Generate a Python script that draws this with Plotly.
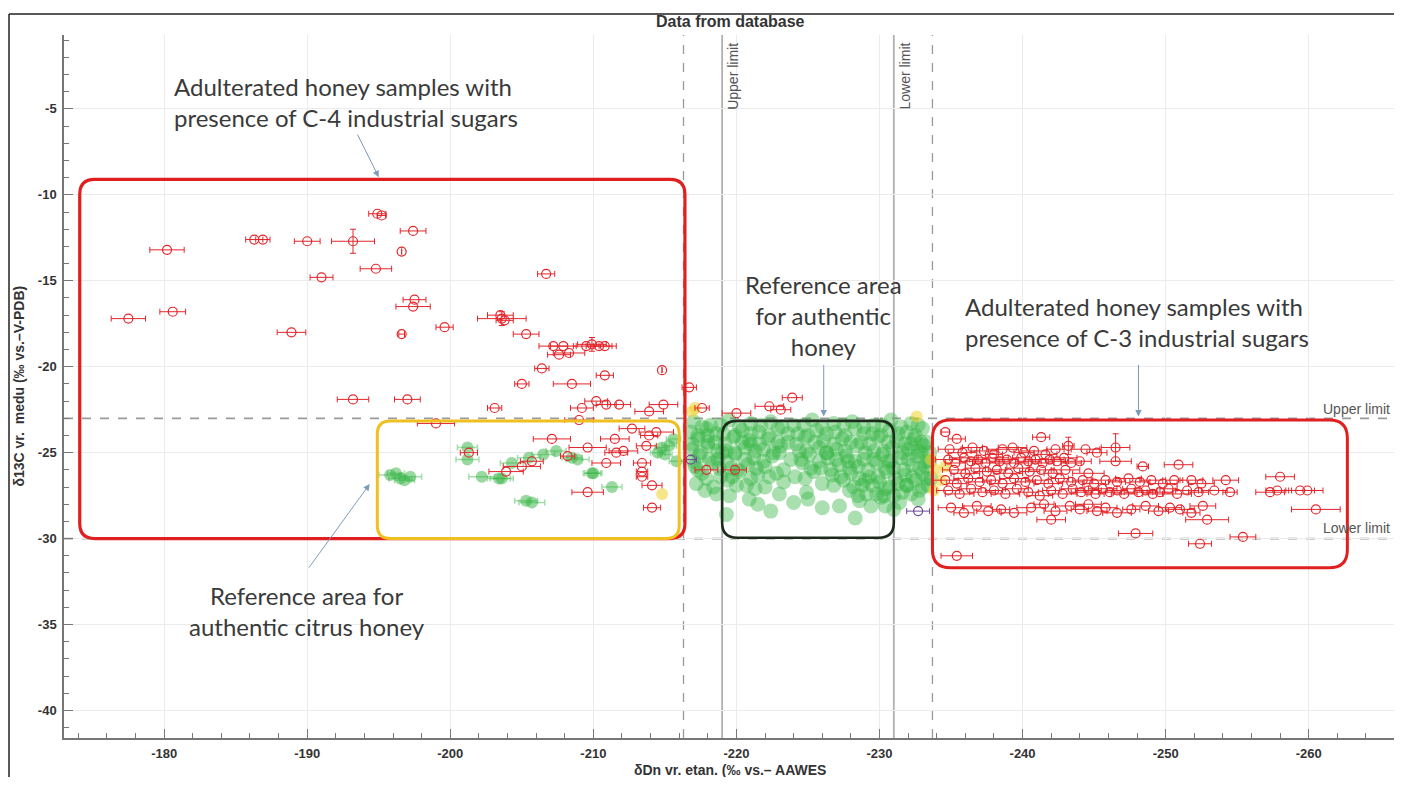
import plotly.graph_objects as go

# ---------------- data ----------------
# adulterated samples, left group (C-4 area and around)
c4_x = [-177.5, -180.2, -180.6, -186.3, -186.9, -190.0, -194.9, -195.2, -197.4, -196.6,
        -194.8, -191.0, -206.7, -197.5, -197.4, -188.9, -196.6, -199.6, -203.5, -203.8,
        -205.3, -207.2, -207.9, -208.3, -207.6, -209.5, -210.4, -210.8, -206.4, -210.8,
        -208.5, -205.0, -214.8, -193.2, -197.0, -203.1, -209.2, -210.2, -210.9, -211.8,
        -213.9, -214.9, -209.0, -199.0, -207.1, -211.5, -212.7, -214.4, -213.9, -209.6,
        -212.1, -211.6, -213.7, -201.3, -205.0, -205.7, -203.9, -210.9, -213.4, -213.4,
        -213.4, -208.2, -214.1, -209.6, -214.1, -216.7, -217.6, -220.0, -222.3, -223.1,
        -223.9, -217.9, -219.9]
c4_y = [-17.2, -13.2, -16.8, -12.6, -12.6, -12.7, -11.1, -11.2, -12.1, -13.3,
        -14.3, -14.8, -14.6, -16.1, -16.5, -18.0, -18.1, -17.7, -17.0, -17.3,
        -18.1, -18.8, -18.8, -19.2, -19.3, -18.8, -18.8, -18.8, -20.1, -20.5,
        -21.0, -21.0, -20.2, -21.9, -21.9, -22.4, -22.4, -22.0, -22.2, -22.2,
        -22.6, -22.2, -23.1, -23.3, -24.2, -24.2, -23.6, -23.8, -24.0, -24.7,
        -24.9, -25.0, -24.6, -25.0, -25.8, -25.5, -26.1, -25.6, -25.6, -26.1,
        -26.4, -25.2, -26.9, -27.3, -28.2, -21.2, -22.4, -22.7, -22.3, -22.5,
        -21.8, -26.0, -26.0]
c4_xerr = [1.2, 1.2, 0.9, 0.6, 0.5, 0.9, 0.6, 0.3, 0.9, 0.0,
           1.1, 0.8, 0.6, 0.8, 1.2, 1.0, 0.2, 0.6, 0.9, 0.6,
           0.9, 1.0, 0.9, 1.1, 0.8, 0.9, 0.9, 0.8, 0.5, 0.6,
           1.3, 0.5, 0.0, 1.1, 0.9, 0.5, 0.8, 0.8, 0.7, 0.8,
           1.0, 1.0, 1.0, 1.3, 1.3, 1.0, 0.9, 1.2, 0.6, 1.3,
           1.0, 0.8, 0.7, 0.6, 1.3, 0.8, 1.2, 1.0, 0.6, 0.4,
           0.4, 0.5, 0.7, 1.1, 0.6, 0.5, 0.5, 1.0, 1.0, 0.7,
           0.7, 0.8, 0.8]

# samples drawn with both error bars
v_x = [-193.2, -203.6, -209.9, -246.5, -243.2]
v_y = [-12.7, -17.2, -18.7, -24.7, -24.6]
v_xerr = [1.5, 1.7, 1.0, 1.0, 0.4]
v_yerr = [0.7, 0.4, 0.4, 0.8, 0.5]

# adulterated samples, right group (C-3 area)
c3_x = [-235.4, -234.6, -241.3,
        -234.9, -235.8, -236.5, -237.3, -238.0, -238.6, -239.3, -240.1, -240.8, -241.6, -242.3, -244.4, -245.2,
        -234.8, -235.3, -235.9, -236.4, -236.9, -237.4, -237.9, -238.4, -238.9, -239.4, -239.9, -240.4, -240.9,
        -241.4, -241.9, -242.4, -242.9, -243.4, -244.0, -246.5, -248.4, -250.9,
        -235.2, -236.0, -236.7, -237.5, -238.2, -239.0, -239.7, -240.5, -241.3, -242.1, -243.0, -244.6,
        -234.6, -235.4, -236.2, -237.0, -237.8, -238.6, -239.4, -240.2, -241.0, -241.8, -242.6, -243.4,
        -244.2, -245.0, -245.8, -246.6, -247.4, -248.2, -249.0, -249.8, -250.6, -251.8, -252.5, -254.2,
        -234.8, -235.6, -236.4, -237.2, -238.0, -238.8, -239.6, -240.4, -241.2, -242.0, -242.8, -243.5,
        -244.1, -244.6, -245.1, -245.6, -246.1, -246.6, -247.1, -247.6, -248.1, -248.6, -249.1, -249.6,
        -250.2, -250.8, -251.5, -252.3, -253.4, -254.5,
        -235.0, -235.9, -236.8, -237.6, -238.5, -239.4, -240.6, -241.5, -242.3, -243.3, -244.0, -244.6,
        -245.2, -245.8, -246.6, -247.6, -248.6, -249.5, -250.3, -251.0, -251.8, -252.6,
        -258.0, -257.3, -257.8, -259.4, -259.9, -260.5, -252.9, -242.0, -247.9, -255.4, -252.4, -235.4]
c3_y = [-24.2, -23.8, -24.1,
        -24.8, -25.0, -24.7, -24.9, -25.1, -24.8, -24.7, -25.0, -24.9, -25.1, -24.8, -24.8, -25.0,
        -25.4, -25.6, -25.3, -25.5, -25.4, -25.6, -25.3, -25.5, -25.4, -25.6, -25.3, -25.5, -25.4,
        -25.6, -25.4, -25.5, -25.3, -25.6, -25.5, -25.5, -25.8, -25.7,
        -26.0, -26.2, -25.9, -26.1, -26.0, -26.2, -25.9, -26.1, -26.0, -26.2, -26.0, -26.2,
        -26.6, -26.8, -26.5, -26.7, -26.6, -26.8, -26.5, -26.7, -26.6, -26.8, -26.5, -26.7,
        -26.6, -26.8, -26.6, -26.7, -26.5, -26.7, -26.6, -26.8, -26.6, -26.6, -26.8, -26.6,
        -27.2, -27.4, -27.1, -27.3, -27.2, -27.4, -27.1, -27.3, -27.5, -27.2, -27.4, -27.1,
        -27.3, -27.2, -27.4, -27.1, -27.3, -27.2, -27.4, -27.1, -27.3, -27.2, -27.4, -27.3,
        -27.1, -27.4, -27.2, -27.3, -27.2, -27.3,
        -28.2, -28.5, -28.1, -28.4, -28.3, -28.5, -28.2, -28.0, -28.4, -28.1, -28.3, -28.0,
        -28.4, -28.2, -28.5, -28.3, -28.1, -28.4, -28.2, -28.3, -28.5, -28.1,
        -26.4, -27.3, -27.2, -27.2, -27.2, -28.3, -28.9, -28.9, -29.7, -29.9, -30.3, -31.0]
c3_xerr = [0.6, 0.3, 0.6,
           0.8, 1.0, 0.7, 0.9, 0.6, 1.1, 1.0, 0.7, 0.9, 0.8, 0.6, 1.0, 0.7,
           0.9, 0.7, 1.0, 0.8, 0.6, 0.9, 1.1, 0.7, 0.8, 1.0, 0.6, 0.9, 0.7,
           0.8, 1.0, 0.6, 0.9, 0.7, 0.8, 1.1, 0.4, 1.0,
           0.8, 1.0, 0.7, 0.9, 0.6, 1.0, 0.8, 0.7, 0.9, 0.6, 1.0, 1.1,
           0.9, 0.7, 1.0, 0.8, 0.6, 0.9, 1.0, 0.7, 0.8, 1.0, 0.6, 0.9,
           0.7, 0.8, 1.0, 0.6, 0.9, 0.7, 0.8, 1.0, 0.6, 0.8, 0.9, 0.9,
           0.8, 1.0, 0.7, 0.9, 0.6, 1.0, 0.8, 0.7, 0.9, 0.6, 1.0, 0.8,
           0.7, 0.9, 0.6, 1.0, 0.8, 0.7, 0.9, 0.6, 1.0, 0.8, 0.7, 0.9,
           0.6, 1.0, 0.8, 0.7, 0.9, 0.5,
           0.9, 0.7, 1.0, 0.8, 0.6, 0.9, 1.0, 0.7, 0.8, 1.0, 0.6, 0.9,
           0.7, 0.8, 1.0, 0.6, 0.9, 0.7, 0.8, 1.0, 0.6, 0.9,
           1.0, 1.0, 0.8, 1.0, 1.1, 1.7, 1.5, 1.0, 1.2, 0.9, 0.8, 1.1]

# authentic honey (database)
auth_x = [-217.0, -218.2, -219.5, -221.0, -222.4, -224.0, -225.3, -226.8, -228.1, -229.6, -230.8, -232.2,
          -216.8, -217.9, -219.1, -220.4, -221.6, -222.9, -224.3, -225.6, -226.9, -228.3, -229.5, -230.7, -231.9, -233.0,
          -217.3, -218.5, -219.8, -220.9, -222.2, -223.6, -224.8, -226.1, -227.4, -228.7, -229.9, -231.2, -232.4, -233.3,
          -216.9, -218.0, -219.3, -220.6, -221.9, -223.1, -224.4, -225.8, -227.0, -228.4, -229.6, -230.9, -232.0, -233.1,
          -217.4, -218.7, -219.9, -221.2, -222.5, -223.8, -225.1, -226.4, -227.7, -228.9, -230.2, -231.5, -232.6,
          -217.1, -218.3, -219.6, -220.8, -222.0, -224.6, -225.9, -227.2, -228.5, -229.8, -231.0, -232.3, -233.2,
          -217.6, -218.9, -220.2, -221.5, -222.8, -224.1, -225.4, -226.7, -228.0, -229.3, -230.5, -231.8, -233.0,
          -217.2, -219.4, -220.7, -223.3, -226.0, -227.5, -228.8, -230.0, -231.3, -232.5, -233.4,
          -217.8, -218.6, -221.3, -224.9, -227.9, -229.1, -230.4, -231.6, -232.8,
          -220.9, -225.0, -228.6, -230.1, -231.4, -232.7,
          -222.4, -226.0, -229.4, -231.0, -228.3, -219.3,
          -227.8, -229.0, -230.6, -231.9, -232.9, -233.5, -233.6, -232.2, -230.3, -226.3, -223.0, -221.0, -219.0, -218.0,
          -217.6, -218.9, -220.2, -221.7, -223.2, -224.7, -226.0, -227.5, -228.9, -230.2, -231.5, -232.7,
          -217.3, -218.6, -219.9, -221.0, -222.3, -223.6, -225.0, -226.3, -227.6, -228.9, -230.1, -231.3, -232.5,
          -216.9, -218.0, -219.2, -220.4, -221.6, -222.9, -224.2, -225.5, -226.8, -228.0, -229.3, -230.6, -231.8, -232.9,
          -217.5, -218.7, -219.9, -221.3, -222.6, -224.9, -226.3, -227.6, -229.0, -230.3, -231.6, -232.7, -233.5,
          -217.0, -218.1, -219.3, -220.6, -221.9, -224.5, -225.8, -227.0, -228.3, -229.6, -230.8, -232.0, -233.3,
          -217.3, -218.8, -220.1, -221.4, -223.3, -225.2, -226.6, -227.9, -229.2, -230.4, -231.7, -232.8,
          -217.9, -219.7, -221.0, -222.3, -224.8, -227.3, -228.6, -229.9, -231.1, -232.3, -233.3,
          -218.4, -220.0, -222.0, -226.8, -228.2, -229.5, -230.7, -231.9, -233.0,
          -219.5, -223.0, -228.5, -229.8, -231.0, -232.2,
          -221.5, -224.0, -227.2, -230.4]
auth_y = [-23.2, -23.4, -23.1, -23.3, -23.2, -23.4, -23.1, -23.3, -23.2, -23.4, -23.1, -23.3,
          -23.8, -23.6, -23.9, -23.7, -23.8, -23.6, -23.9, -23.7, -23.8, -23.6, -23.9, -23.7, -23.8, -23.6,
          -24.2, -24.4, -24.1, -24.3, -24.2, -24.4, -24.1, -24.3, -24.2, -24.4, -24.1, -24.3, -24.2, -24.4,
          -24.8, -24.6, -24.9, -24.7, -24.8, -24.6, -24.9, -24.7, -24.8, -24.6, -24.9, -24.7, -24.8, -24.6,
          -25.2, -25.4, -25.1, -25.3, -25.2, -25.4, -25.1, -25.3, -25.2, -25.4, -25.1, -25.3, -25.2,
          -25.8, -25.6, -25.9, -25.7, -25.8, -25.6, -25.9, -25.7, -25.8, -25.6, -25.9, -25.7, -25.8,
          -26.2, -26.4, -26.1, -26.3, -26.2, -26.4, -26.1, -26.3, -26.2, -26.4, -26.1, -26.3, -26.2,
          -26.8, -26.6, -26.9, -26.7, -26.8, -26.6, -26.9, -26.7, -26.8, -26.6, -26.9,
          -27.2, -27.4, -27.1, -27.3, -27.2, -27.4, -27.1, -27.3, -27.2,
          -27.7, -27.7, -27.8, -27.6, -27.9, -27.7,
          -28.4, -28.2, -28.1, -28.3, -28.8, -28.6,
          -25.5, -26.6, -25.5, -26.9, -25.0, -25.5, -26.5, -24.5, -27.5, -25.0, -25.0, -24.5, -25.0, -24.0,
          -23.5, -23.4, -23.5, -23.4, -23.5, -23.4, -23.5, -23.4, -23.5, -23.4, -23.5, -23.4,
          -24.0, -23.9, -24.0, -23.9, -24.0, -23.9, -24.0, -23.9, -24.0, -23.9, -24.0, -23.9, -24.0,
          -24.5, -24.4, -24.5, -24.4, -24.5, -24.4, -24.5, -24.4, -24.5, -24.4, -24.5, -24.4, -24.5, -24.4,
          -25.0, -24.9, -25.0, -24.9, -25.0, -24.9, -25.0, -24.9, -25.0, -24.9, -25.0, -24.9, -25.0,
          -25.5, -25.4, -25.5, -25.4, -25.5, -25.4, -25.5, -25.4, -25.5, -25.4, -25.5, -25.4, -25.5,
          -26.0, -25.9, -26.0, -25.9, -26.0, -25.9, -26.0, -25.9, -26.0, -25.9, -26.0, -25.9,
          -26.5, -26.4, -26.5, -26.4, -26.5, -26.4, -26.5, -26.4, -26.5, -26.4, -26.5,
          -27.0, -26.9, -27.0, -26.9, -27.0, -26.9, -27.0, -26.9, -27.0,
          -27.5, -27.4, -27.5, -27.4, -27.5, -27.4,
          -28.0, -27.9, -28.1, -28.1]

# authentic citrus honey
citrus_x = [-195.8, -196.5, -197.2, -196.8, -196.2, -201.2, -201.2, -202.2, -203.6, -205.5, -207.4,
            -208.5, -208.9, -209.9, -211.3, -205.7, -205.3, -214.8, -215.3, -215.0, -214.5, -215.6,
            -215.8, -206.5, -204.3, -203.4, -210.0]
citrus_y = [-26.3, -26.5, -26.4, -26.6, -26.2, -24.7, -25.4, -26.4, -26.5, -25.3, -24.9,
            -25.3, -25.4, -26.2, -27.0, -27.9, -27.8, -24.7, -24.6, -25.1, -25.0, -24.2,
            -25.5, -25.1, -25.6, -26.5, -26.2]
citrus_xerr = [0.8, 0.8, 0.8, 0.7, 0.6, 0.7, 0.8, 0.9, 0.8, 0.8, 0.7,
               0.7, 0.8, 0.6, 0.7, 0.9, 0.8, 0.5, 0.5, 0.5, 0.5, 0.5,
               0.5, 0.8, 0.8, 0.8, 0.6]

# other (yellow) samples
yel_x = [-214.8, -217.1, -232.6, -233.6, -233.9, -234.3, -233.8, -234.6, -216.9]
yel_y = [-27.4, -22.4, -22.9, -25.4, -26.0, -26.6, -27.2, -25.8, -22.6]

# others (blue-violet)
oth_x = [-232.7, -216.8]
oth_y = [-28.4, -25.4]
oth_xerr = [0.8, 0.4]

# reference limits
dD_limits = [-219.0, -231.0]           # solid lines
dD_db = [-216.3, -233.7]               # dashed lines
d13C_limits = [-23.0, -30.0]           # dashed horizontal lines

x_ticks = [-180, -190, -200, -210, -220, -230, -240, -250, -260]
y_ticks = [-5, -10, -15, -20, -25, -30, -35, -40]

# ---------------- layout geometry ----------------
# the page body has an 8 px margin, so the figure is drawn 8 px smaller
W, H = 1394, 769
ML, MR, MT, MB = 56, 6, 27, 39
XR = [-173.0, -266.1]
YR = [-41.6, -0.7]
pw, ph = W - ML - MR, H - MT - MB
xpx = pw / abs(XR[1] - XR[0])
ypx = ph / abs(YR[1] - YR[0])

RED = "#e3262b"
fig = go.Figure()

fig.add_trace(go.Scatter(
    x=auth_x, y=auth_y, mode="markers",
    marker=dict(size=15, color="rgba(52,180,66,0.42)", line=dict(width=0)),
    hoverinfo="skip", showlegend=False))
fig.add_trace(go.Scatter(
    x=citrus_x, y=citrus_y, mode="markers",
    error_x=dict(type="data", array=citrus_xerr, color="rgba(52,180,66,0.45)", thickness=1.5, width=3),
    marker=dict(size=12, color="rgba(52,180,66,0.5)", line=dict(width=0)),
    hoverinfo="skip", showlegend=False))
fig.add_trace(go.Scatter(
    x=yel_x, y=yel_y, mode="markers",
    marker=dict(size=12, color="rgba(240,210,40,0.55)", line=dict(width=0)),
    hoverinfo="skip", showlegend=False))
fig.add_trace(go.Scatter(
    x=oth_x, y=oth_y, mode="markers",
    error_x=dict(type="data", array=oth_xerr, color="#6a4a9a", thickness=1, width=3),
    marker=dict(size=9, symbol="circle-open", color="#6a4a9a", line=dict(width=1.2)),
    hoverinfo="skip", showlegend=False))

for xs, ys, xe in [(c4_x, c4_y, c4_xerr), (c3_x, c3_y, c3_xerr)]:
    fig.add_trace(go.Scatter(
        x=xs, y=ys, mode="markers",
        error_x=dict(type="data", array=xe, color=RED, thickness=1, width=3),
        marker=dict(size=9, symbol="circle-open", color=RED, line=dict(width=1.2)),
        hoverinfo="skip", showlegend=False))
fig.add_trace(go.Scatter(
    x=v_x, y=v_y, mode="markers",
    error_x=dict(type="data", array=v_xerr, color=RED, thickness=1, width=3),
    error_y=dict(type="data", array=v_yerr, color=RED, thickness=1, width=3),
    marker=dict(size=9, symbol="circle-open", color=RED, line=dict(width=1.2)),
    hoverinfo="skip", showlegend=False))

shapes = []
for xv in dD_db:
    shapes.append(dict(type="line", xref="x", yref="paper", x0=xv, x1=xv, y0=0, y1=1,
                       line=dict(color="#9a9a9a", width=1.3, dash="dash"), layer="below"))
for xv in dD_limits:
    shapes.append(dict(type="line", xref="x", yref="paper", x0=xv, x1=xv, y0=0, y1=1,
                       line=dict(color="#b0b0b0", width=1.8), layer="below"))
for yv in d13C_limits:
    shapes.append(dict(type="line", xref="paper", yref="y", x0=0, x1=1, y0=yv, y1=yv,
                       line=dict(color="#9a9a9a", width=1.8, dash="dash"), layer="below"))


def rounded(xa, xb, ybot, ytop, rpx):
    rx, ry = rpx / xpx, rpx / ypx
    s = 1 if xb > xa else -1
    p = (f"M {xa + s*rx},{ytop} L {xb - s*rx},{ytop} Q {xb},{ytop} {xb},{ytop - ry} "
         f"L {xb},{ybot + ry} Q {xb},{ybot} {xb - s*rx},{ybot} "
         f"L {xa + s*rx},{ybot} Q {xa},{ybot} {xa},{ybot + ry} "
         f"L {xa},{ytop - ry} Q {xa},{ytop} {xa + s*rx},{ytop} Z")
    return p


boxes = [
    ((-174.1, -216.4, -30.0, -9.1), "#e02020", 3.2, 15),
    ((-194.9, -216.0, -30.0, -23.15), "#f0c020", 3.0, 13),
    ((-219.0, -231.0, -29.95, -23.15), "#1c2b1c", 2.6, 15),
    ((-233.7, -262.7, -31.7, -23.1), "#e02020", 3.0, 18),
]
for (xa, xb, yb, yt), col, lw, r in boxes:
    shapes.append(dict(type="path", xref="x", yref="y", path=rounded(xa, xb, yb, yt, r),
                       line=dict(color=col, width=lw), layer="above"))

# outer frame
fx0 = -(ML - 1) / pw
fx1 = 1 + 4 / pw
fy1 = 1 + (MT - 6) / ph
fyb = -0.2
shapes += [
    dict(type="line", xref="paper", yref="paper", x0=fx0, x1=fx1, y0=fy1, y1=fy1, line=dict(color="#222", width=1.5)),
    dict(type="line", xref="paper", yref="paper", x0=fx0, x1=fx0, y0=fyb, y1=fy1, line=dict(color="#222", width=1.5)),
    dict(type="line", xref="paper", yref="paper", x0=fx1, x1=fx1, y0=fyb, y1=fy1, line=dict(color="#222", width=1.5)),
]

TXT = dict(family="Lato", size=24, color="#3a3a3a")
SMALL = dict(family="Liberation Sans", size=14, color="#555")
BOLD = dict(family="Liberation Sans", size=16, color="#333", weight="bold")
XBOLD = dict(family="Liberation Sans", size=14, color="#333", weight="bold")
YBOLD = dict(family="Liberation Sans", size=14, color="#333", weight="bold")
ARROW = "#7d9cbb"
ann = [
    dict(x=-192.7, y=-4.6, xref="x", yref="y", text="Adulterated honey samples with<br>presence of C-4 industrial sugars",
         showarrow=False, font=TXT, align="left"),
    dict(x=-226.1, y=-17.0, xref="x", yref="y", text="Reference area<br>for authentic<br>honey",
         showarrow=False, font=TXT, align="center"),
    dict(x=-248.0, y=-17.4, xref="x", yref="y", text="Adulterated honey samples with<br>presence of C-3 industrial sugars",
         showarrow=False, font=TXT, align="left"),
    dict(x=-190.0, y=-34.2, xref="x", yref="y", text="Reference area for<br>authentic citrus honey",
         showarrow=False, font=TXT, align="center"),
    dict(x=-219.8, y=-3.1, xref="x", yref="y", text="Upper limit", textangle=-90, showarrow=False, font=SMALL),
    dict(x=-231.8, y=-3.1, xref="x", yref="y", text="Lower limit", textangle=-90, showarrow=False, font=SMALL),
    dict(x=0.997, y=-22.45, xref="paper", yref="y", text="Upper limit", xanchor="right", showarrow=False, font=SMALL),
    dict(x=0.997, y=-29.4, xref="paper", yref="y", text="Lower limit", xanchor="right", showarrow=False, font=SMALL),
    dict(x=0.5, y=1 + 13 / ph, xref="paper", yref="paper", yanchor="middle", text="Data from database",
         showarrow=False, font=BOLD),
    dict(x=0.5, y=-32 / ph, xref="paper", yref="paper", yanchor="middle", text="δDn vr. etan. (‰ vs.– AAWES",
         showarrow=False, font=XBOLD),
    dict(x=-(ML - 10) / pw, y=0.5, xref="paper", yref="paper", xanchor="center", yanchor="middle",
         text="δ13C vr.  medu (‰ vs.–V-PDB)", textangle=-90, showarrow=False, font=YBOLD),
]
arrows = [((-193.46, -6.40), (-195.0, -8.97)),
          ((-226.1, -19.8), (-226.1, -22.9)),
          ((-248.1, -19.8), (-248.1, -22.9)),
          ((-190.04, -31.78), (-194.37, -26.82))]
for (ax, ay), (x, y) in arrows:
    ann.append(dict(x=x, y=y, ax=ax, ay=ay, xref="x", yref="y", axref="x", ayref="y", text="",
                    showarrow=True, arrowhead=2, arrowsize=1.3, arrowwidth=1, arrowcolor=ARROW, standoff=0))

TICKF = dict(family="Liberation Sans", size=13, color="#333", weight="bold")
fig.update_layout(
    width=W, height=H, margin=dict(l=ML, r=MR, t=MT, b=MB),
    paper_bgcolor="white", plot_bgcolor="white",
    shapes=shapes, annotations=ann,
    xaxis=dict(range=XR, tickvals=x_ticks, ticktext=[str(v) for v in x_ticks], tickfont=TICKF,
               ticks="inside", ticklen=9, tickcolor="#777", tickwidth=1.3,
               minor=dict(dtick=2, tick0=-180, ticks="inside", ticklen=5, tickcolor="#777", showgrid=False),
               showgrid=True, gridcolor="#ebebeb", gridwidth=1, zeroline=False,
               showline=True, linecolor="#777", linewidth=1.5, ticklabelstandoff=3),
    yaxis=dict(range=YR, tickvals=y_ticks, ticktext=[str(v) for v in y_ticks], tickfont=TICKF,
               ticks="inside", ticklen=9, tickcolor="#777", tickwidth=1.3,
               minor=dict(dtick=1, tick0=-5, ticks="inside", ticklen=5, tickcolor="#777", showgrid=False),
               showgrid=True, gridcolor="#ebebeb", gridwidth=1, zeroline=False,
               showline=True, linecolor="#777", linewidth=1.5, ticklabelstandoff=3),
)

fig.write_html("out.html")
